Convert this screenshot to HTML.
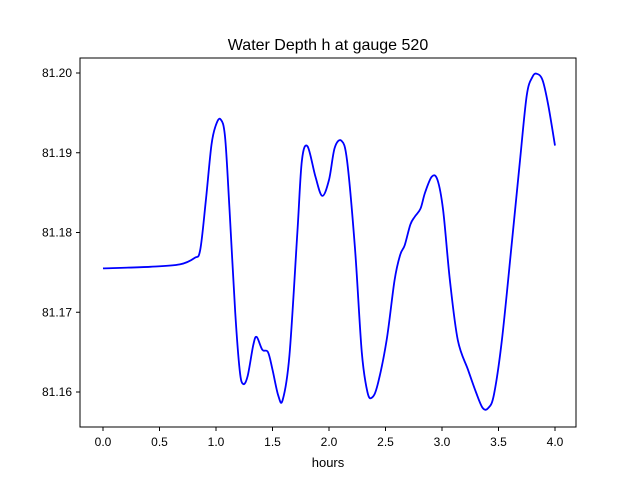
<!DOCTYPE html>
<html><head><meta charset="utf-8"><style>
body{margin:0;background:#fff;}
svg{display:block;font-family:"Liberation Sans","DejaVu Sans",sans-serif;}
</style></head><body>
<svg id="chart" width="640" height="480">
<rect width="640" height="480" fill="#fff"/>
<text x="328" y="50" text-anchor="middle" font-size="16">Water Depth h at gauge 520</text>
<g id="ticks"></g>
<path id="line" fill="none" stroke="#0000ff" stroke-width="1.8" stroke-linejoin="round"/>
<rect x="80" y="58" width="496" height="369" fill="none" stroke="#000" stroke-width="1"/>
<text x="328" y="467" text-anchor="middle" font-size="13">hours</text>
</svg>
<script>
const xTicks=[0,0.5,1,1.5,2,2.5,3,3.5,4];
const xTickLabels=["0.0","0.5","1.0","1.5","2.0","2.5","3.0","3.5","4.0"];
const yTicks=[81.16,81.17,81.18,81.19,81.20];
const yTickLabels=["81.16","81.17","81.18","81.19","81.20"];
const hours=[0,0.416,0.68,0.81,0.86,0.91,0.96,1.0,1.04,1.08,1.12,1.17,1.21,1.24,1.28,1.33,1.36,1.41,1.46,1.5,1.55,1.59,1.65,1.72,1.76,1.81,1.88,1.94,2.0,2.05,2.11,2.16,2.23,2.29,2.34,2.38,2.43,2.51,2.58,2.63,2.67,2.72,2.76,2.81,2.85,2.91,2.96,3.01,3.07,3.14,3.23,3.30,3.36,3.41,3.46,3.53,3.62,3.69,3.75,3.80,3.84,3.89,3.94,4.0];
const depth=[81.1755,81.1757,81.1760,81.1768,81.1778,81.184,81.191,81.1935,81.1942,81.192,81.1828,81.170,81.1627,81.161,81.162,81.1659,81.1669,81.1653,81.165,81.1628,81.1596,81.159,81.1646,81.180,81.189,81.1908,81.187,81.1846,81.1866,81.1906,81.1915,81.189,81.178,81.165,81.160,81.1593,81.1609,81.1665,81.174,81.1772,81.1784,81.181,81.182,81.183,81.185,81.187,81.1866,81.1828,81.174,81.1665,81.1628,81.160,81.158,81.158,81.1597,81.1665,81.179,81.189,81.1972,81.1995,81.1999,81.1991,81.196,81.1909];
const X=v=>103+v*113;
const Y=v=>73+(81.20-v)*7975;
const ns="http://www.w3.org/2000/svg";
const g=document.getElementById('ticks');
function mk(tag,attrs){const e=document.createElementNS(ns,tag);for(const k in attrs)e.setAttribute(k,attrs[k]);return e;}
xTicks.forEach((t,i)=>{
  const l=mk('line',{x1:X(t),x2:X(t),y1:427,y2:431,stroke:'#000'});
  
  
  g.appendChild(l);
  const tx=mk('text',{x:X(t),y:446,'text-anchor':'middle','font-size':12});
  
  
  tx.textContent=xTickLabels[i];g.appendChild(tx);
});
yTicks.forEach((t,i)=>{
  const l=mk('line',{x1:76,x2:80,y1:Y(t),y2:Y(t),stroke:'#000'});
  
  
  g.appendChild(l);
  const tx=mk('text',{x:72,y:Y(t)+4,'text-anchor':'end','font-size':12});
  
  
  tx.textContent=yTickLabels[i];g.appendChild(tx);
});
const pts=hours.map((h,i)=>[X(h),Y(depth[i])]);
let d='M'+pts[0][0]+','+pts[0][1];
for(let i=0;i<pts.length-1;i++){
  const p0=pts[Math.max(0,i-1)],p1=pts[i],p2=pts[i+1],p3=pts[Math.min(pts.length-1,i+2)];
  const c1=[p1[0]+(p2[0]-p0[0])/6,p1[1]+(p2[1]-p0[1])/6];
  const c2=[p2[0]-(p3[0]-p1[0])/6,p2[1]-(p3[1]-p1[1])/6];
  d+=` C${c1[0]},${c1[1]} ${c2[0]},${c2[1]} ${p2[0]},${p2[1]}`;
}
document.getElementById('line').setAttribute('d',d);
</script>
</body></html>
